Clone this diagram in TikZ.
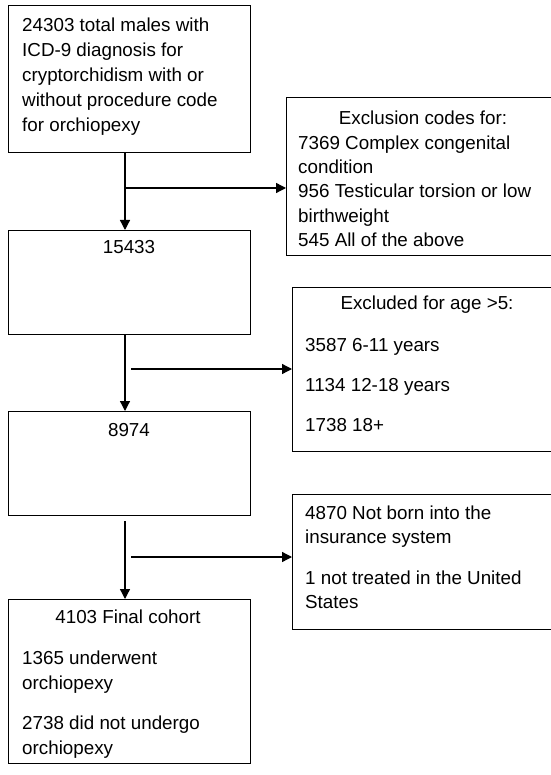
\documentclass[tikz,border=0pt]{standalone}
\usepackage{fontspec}
\setmainfont{Liberation Sans}
\usetikzlibrary{arrows.meta}
\begin{document}
\begin{tikzpicture}[x=1pt,y=-1pt,
  boxstyle/.style={draw,line width=1.2pt,inner sep=0pt},
  txt/.style={inner sep=0pt,anchor=base west,font=\fontsize{18.8}{25}\selectfont},
  ctxt/.style={inner sep=0pt,anchor=base,font=\fontsize{18.8}{25}\selectfont},
  arr/.style={line width=1.3pt,-{Triangle[length=10pt,width=10pt]}}]
\useasboundingbox (0,0) rectangle (550,775);
% box shapes
\node[boxstyle,minimum width=242pt,minimum height=147pt,anchor=north west] (b1) at (8,5) {};
\node[boxstyle,minimum width=314pt,minimum height=158pt,anchor=north west] (ex1) at (286,97) {};
\node[boxstyle,minimum width=242pt,minimum height=104pt,anchor=north west] (b2) at (8,230) {};
\node[boxstyle,minimum width=308pt,minimum height=164pt,anchor=north west] (ex2) at (292,287) {};
\node[boxstyle,minimum width=242pt,minimum height=104pt,anchor=north west] (b3) at (8,411) {};
\node[boxstyle,minimum width=308pt,minimum height=135pt,anchor=north west] (ex3) at (292,494) {};
\node[boxstyle,minimum width=242pt,minimum height=164pt,anchor=north west] (b4) at (8,599) {};
% box 1 text
\node[txt] (t11) at (22,31.7) {24303 total males with};
\node[txt] (t12) at (22,56.7) {ICD-9 diagnosis for};
\node[txt] (t13) at (22,81.7) {cryptorchidism with or};
\node[txt] (t14) at (22,106.7) {without procedure code};
\node[txt] (t15) at (22,131.7) {for orchiopexy};
% exclusion 1 text
\node[ctxt] (e10) at (423,124.7) {Exclusion codes for:};
\node[txt] (e11) at (298,149.1) {7369 Complex congenital};
\node[txt] (e12) at (298,173.5) {condition};
\node[txt] (e13) at (298,197.9) {956 Testicular torsion or low};
\node[txt] (e14) at (298,222.3) {birthweight};
\node[txt] (e15) at (298,246.7) {545 All of the above};
% box 2
\node[ctxt] (t2) at (129,253.7) {15433};
% exclusion 2
\node[ctxt] (e20) at (427,309.7) {Excluded for age >5:};
\node[txt] (e21) at (305,351.7) {3587 6-11 years};
\node[txt] (e22) at (305,391.7) {1134 12-18 years};
\node[txt] (e23) at (305,431.7) {1738 18+};
% box 3
\node[ctxt] (t3) at (129,436.7) {8974};
% exclusion 3
\node[txt] (e31) at (305,519.7) {4870 Not born into the};
\node[txt] (e32) at (305,543.7) {insurance system};
\node[txt] (e33) at (305,584.7) {1 not treated in the United};
\node[txt] (e34) at (305,608.7) {States};
% box 4
\node[ctxt] (t40) at (128,623.7) {4103 Final cohort};
\node[txt] (t41) at (22,664.7) {1365 underwent};
\node[txt] (t42) at (22,689.7) {orchiopexy};
\node[txt] (t43) at (22,729.7) {2738 did not undergo};
\node[txt] (t44) at (22,754.7) {orchiopexy};
% connectors
\coordinate (spine) at (125,0);
\coordinate (j1) at (125,188);
\coordinate (j2) at (131,369);
\coordinate (j3) at (131,557);
\coordinate (s3) at (125,521);
\draw[arr] (b1.south -| spine) -- (b2.north -| spine);
\draw[arr] (j1) -- (j1 -| ex1.west);
\draw[arr] (b2.south -| spine) -- (b3.north -| spine);
\draw[arr] (j2) -- (j2 -| ex2.west);
\draw[arr] (s3) -- (b4.north -| spine);
\draw[arr] (j3) -- (j3 -| ex3.west);
\end{tikzpicture}
\end{document}
